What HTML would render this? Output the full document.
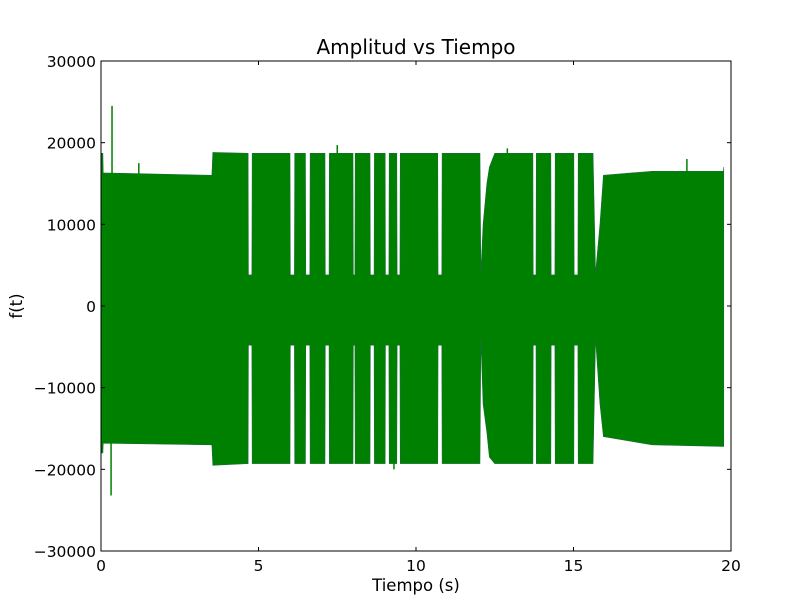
<!DOCTYPE html>
<html><head><meta charset="utf-8"><style>
body{margin:0;background:#fff;}
svg{display:block;font-family:"DejaVu Sans","Liberation Sans",sans-serif;}
</style></head><body>
<svg id="chart" width="812" height="612">
<rect width="812" height="612" fill="#fff"/>
<g id="plot"></g>
<rect x="101" y="61" width="630" height="490" fill="none" stroke="#000" stroke-width="1"/>
<g id="ticks"></g>
<text x="416" y="54" text-anchor="middle" font-size="20">Amplitud vs Tiempo</text>
<text x="416" y="591" text-anchor="middle" font-size="16.5">Tiempo (s)</text>
<text x="22" y="306" text-anchor="middle" font-size="16.5" transform="rotate(-90 22 306)">f(t)</text>
</svg>
<script>
// envelope breakpoints (time s, upper, lower)
const envT  = [0,0.06,0.07,3.52,3.55,4.67,4.68,4.79,4.8,6.0,6.01,6.14,6.15,6.49,6.5,6.63,6.64,7.11,7.12,7.24,7.25,8.0,8.01,8.06,8.07,8.54,8.55,8.67,8.68,9.02,9.03,9.14,9.15,9.39,9.4,9.49,9.5,10.69,10.7,10.82,10.83,12.03,12.06,12.13,12.25,12.33,12.5,13.71,13.72,13.81,13.82,14.28,14.29,14.41,14.42,15.01,15.02,15.14,15.15,15.62,15.7,15.84,15.95,17.5,19.76,19.77];
const envHi = [18700,18700,16300,16000,18800,18700,3800,3800,18700,18700,3800,3800,18700,18700,3800,3800,18700,18700,3800,3800,18700,18700,3800,3800,18700,18700,3800,3800,18700,18700,3800,3800,18700,18700,3800,3800,18700,18700,3800,3800,18700,18700,4000,10000,15000,17000,18700,18700,3800,3800,18700,18700,3800,3800,18700,18700,3800,3800,18700,18700,4000,10000,16000,16500,16500,17000,0];
const envLo = [-18000,-18000,-16800,-17000,-19500,-19300,-4800,-4800,-19300,-19300,-4800,-4800,-19300,-19300,-4800,-4800,-19300,-19300,-4800,-4800,-19300,-19300,-4800,-4800,-19300,-19300,-4800,-4800,-19300,-19300,-4800,-4800,-19300,-19300,-4800,-4800,-19300,-19300,-4800,-4800,-19300,-19300,-4000,-12000,-15500,-18500,-19300,-19300,-4800,-4800,-19300,-19300,-4800,-4800,-19300,-19300,-4800,-4800,-19300,-19300,-4000,-12000,-16000,-17000,-17200,-17200,0];
// spikes (time s, value)
const spikeT = [0.35,0.32,1.2,7.5,9.3,12.9,18.6];
const spikeV = [24500,-23200,17500,19700,-20000,19300,18000];
const xTicks = [0,5,10,15,20];
const yTicks = [-30000,-20000,-10000,0,10000,20000,30000];

const NS="http://www.w3.org/2000/svg";
const X0=101,X1=731,Y0=551,Y1=61;
const xs=t=>X0+(t-0)/20*(X1-X0);
const ys=v=>Y0-(v+30000)/60000*(Y0-Y1);
const plot=document.getElementById('plot');
let d='M'+xs(envT[0])+','+ys(envHi[0]);
for(let i=1;i<envT.length;i++) d+='L'+xs(envT[i])+','+ys(envHi[i]);
for(let i=envT.length-1;i>=0;i--) d+='L'+xs(envT[i])+','+ys(envLo[i]);
d+='Z';
const p=document.createElementNS(NS,'path');
p.setAttribute('d',d);p.setAttribute('fill','#008000');p.setAttribute('stroke','#1a6a3a');p.setAttribute('stroke-width','0.6');


plot.appendChild(p);
for(let i=0;i<spikeT.length;i++){
  const l=document.createElementNS(NS,'line');
  l.setAttribute('x1',xs(spikeT[i]));l.setAttribute('x2',xs(spikeT[i]));
  l.setAttribute('y1',ys(0));l.setAttribute('y2',ys(spikeV[i]));
  l.setAttribute('stroke','#008000');l.setAttribute('stroke-width','1.5');
  
  
  plot.appendChild(l);
}
const tg=document.getElementById('ticks');
function ln(x1,y1,x2,y2){const l=document.createElementNS(NS,'line');l.setAttribute('x1',x1);l.setAttribute('y1',y1);l.setAttribute('x2',x2);l.setAttribute('y2',y2);l.setAttribute('stroke','#000');tg.appendChild(l);return l;}
function tx(x,y,s,a){const t=document.createElementNS(NS,'text');t.setAttribute('x',x);t.setAttribute('y',y);t.setAttribute('font-size','15.5');t.setAttribute('text-anchor',a);t.textContent=s;tg.appendChild(t);return t;}
xTicks.forEach(v=>{const x=xs(v);
  const a=ln(x,Y0,x,Y0-4);
  const b=ln(x,Y1,x,Y1+4);
  const t=tx(x,Y0+20,String(v),'middle');});
yTicks.forEach(v=>{const y=ys(v);
  const a=ln(X0,y,X0+4,y);
  const b=ln(X1,y,X1-4,y);
  const t=tx(X0-5,y+6,(v<0?'\u2212'+(-v):String(v)),'end');});
</script>
</body></html>
